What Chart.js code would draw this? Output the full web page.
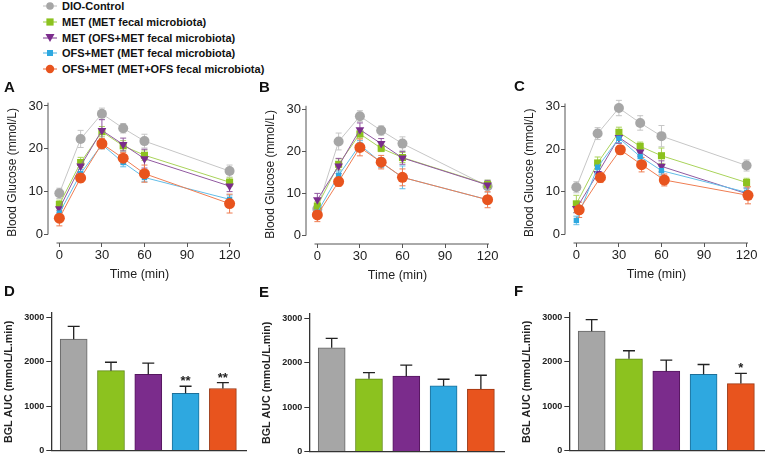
<!DOCTYPE html>
<html>
<head>
<meta charset="utf-8">
<script src="https://cdn.jsdelivr.net/npm/chart.js@4.4.0/dist/chart.umd.min.js"></script>
<style>
  body { margin: 0; background: #fff; width: 767px; height: 460px; position: relative; overflow: hidden; font-family: "Liberation Sans", Arial, sans-serif; }
  .pan { position: absolute; }
  .letter { position: absolute; font-weight: bold; font-size: 15px; line-height: 15px; color: #111; }
  #legend { position: absolute; left: 43px; top: -1px; font-weight: bold; font-size: 11px; color: #111; }
  #legend div { height: 15.8px; line-height: 15.8px; white-space: nowrap; }
  #legend svg { vertical-align: middle; margin-right: 5px; position: relative; top: -1px; }
</style>
</head>
<body>

<div id="legend"></div>

<canvas id="chartA" class="pan" width="247" height="193" style="left:0px;top:90px"></canvas>
<canvas id="chartB" class="pan" width="247" height="194" style="left:258px;top:90px"></canvas>
<canvas id="chartC" class="pan" width="247" height="193" style="left:517px;top:90px"></canvas>
<canvas id="chartD" class="pan" width="251" height="158" style="left:0px;top:300px"></canvas>
<canvas id="chartE" class="pan" width="251" height="159" style="left:258px;top:300px"></canvas>
<canvas id="chartF" class="pan" width="251" height="158" style="left:518px;top:300px"></canvas>

<div class="letter" style="left:4px;top:79px">A</div>
<div class="letter" style="left:259px;top:79px">B</div>
<div class="letter" style="left:514px;top:78px">C</div>
<div class="letter" style="left:4px;top:283px">D</div>
<div class="letter" style="left:259px;top:284px">E</div>
<div class="letter" style="left:514px;top:283px">F</div>

<script>
// groups and styles
const groups = ['DIO-Control', 'MET (MET fecal microbiota)', 'MET (OFS+MET fecal microbiota)', 'OFS+MET (MET fecal microbiota)', 'OFS+MET (MET+OFS fecal microbiota)'];
const colors = ['#a6a6a6', '#8cc21f', '#7b2c8c', '#2ea8e0', '#e8541e'];
const lineColors = ['#c6c6c6', '#a9d35a', '#9159a0', '#62bde8', '#ef7d52'];
const barBorders = ['#666666', '#5f8a14', '#55175f', '#1d6f98', '#9c3510'];

const times = [0, 15, 30, 45, 60, 120];
const timesCOrange = [2, 17, 31, 46, 62, 121];
const timeTicks = [0, 30, 60, 90, 120];
const glucoseTicks = [0, 10, 20, 30];
const aucTicks = [0, 1000, 2000, 3000];

// A: glucose means / SEM (rows follow groups)
const glucA = [
  [9.6, 22.3, 28.2, 24.8, 21.8, 14.8],
  [7.0, 16.8, 24.0, 20.7, 18.5, 12.2],
  [6.0, 16.0, 24.3, 21.0, 17.7, 11.3],
  [5.0, 14.2, 21.0, 16.8, 13.3, 8.2],
  [3.8, 13.2, 21.2, 17.8, 14.2, 7.2]
];
const semA = [
  [1.2, 2.0, 1.3, 1.1, 1.6, 1.4],
  [1.0, 1.2, 1.2, 1.2, 1.2, 1.0],
  [1.0, 1.5, 2.5, 1.5, 2.2, 1.3],
  [1.0, 1.0, 1.0, 1.0, 1.0, 1.0],
  [1.8, 1.0, 1.2, 1.3, 2.0, 2.2]
];

// B
const glucB = [
  [6.3, 22.3, 28.3, 24.9, 21.8, 11.7],
  [7.0, 16.9, 24.1, 20.7, 18.5, 12.1],
  [8.5, 16.5, 25.1, 21.8, 18.4, 12.0],
  [5.5, 14.3, 21.5, 17.3, 13.8, 8.5],
  [4.9, 12.8, 20.9, 17.4, 13.8, 8.5]
];
const semB = [
  [0.8, 2.0, 1.3, 1.1, 1.6, 1.5],
  [1.0, 1.3, 1.0, 0.8, 1.2, 1.0],
  [1.5, 1.8, 1.6, 1.2, 1.5, 1.0],
  [1.0, 1.0, 1.0, 1.2, 2.7, 1.0],
  [1.6, 1.1, 2.0, 1.6, 2.0, 1.9]
];

// C
const glucC = [
  [11.1, 23.7, 29.7, 26.2, 23.1, 16.2],
  [7.2, 16.8, 24.0, 20.7, 18.5, 12.2],
  [6.1, 14.3, 22.8, 19.4, 16.0, 9.6],
  [3.3, 15.8, 22.6, 18.3, 15.0, 9.9],
  [5.8, 13.4, 19.9, 16.4, 12.8, 9.2]
];
const semC = [
  [1.3, 1.4, 1.8, 1.7, 2.5, 1.3],
  [2.0, 1.4, 1.2, 1.0, 1.8, 1.0],
  [1.0, 1.2, 1.4, 1.0, 1.3, 1.3],
  [1.0, 1.0, 1.0, 1.0, 1.0, 1.0],
  [1.8, 1.2, 1.0, 1.7, 1.4, 2.0]
];

// D-F: AUC means / SEM / significance
const aucD = [2510, 1800, 1720, 1290, 1400];
const aucSemD = [290, 190, 250, 160, 130];
const starsD = ['', '', '', '**', '**'];
const aucE = [2340, 1640, 1700, 1480, 1410];
const aucSemE = [210, 140, 250, 150, 310];
const starsE = ['', '', '', '', ''];
const aucF = [2690, 2070, 1790, 1720, 1510];
const aucSemF = [260, 180, 250, 220, 230];
const starsF = ['', '', '', '', '*'];

const shapes = ['circle', 'rect', 'triangle', 'rect', 'circle'];
const sizes = [5, 5, 5, 3.8, 5.5];
const rotations = [0, 0, 180, 0, 0];

Chart.defaults.font.family = '"Liberation Sans", Arial, sans-serif';
Chart.defaults.color = '#222';

// error bars (both sides for lines, upper only for bars) + significance stars
const errorBars = {
  id: 'errorBars',
  beforeDatasetsDraw(chart) { if (chart.config.type === 'line') drawErrors(chart, true, 3); },
  afterDatasetsDraw(chart) { if (chart.config.type === 'bar') drawErrors(chart, false, 6); }
};

function drawErrors(chart, both, cap) {
  const ctx = chart.ctx;
  const ys = chart.scales.y;
  chart.data.datasets.forEach((ds, i) => {
    const meta = chart.getDatasetMeta(i);
    meta.data.forEach((el, j) => {
      const v = ds.data[j].y, e = ds.errors[j];
      const hi = ys.getPixelForValue(v + e);
      const lo = both ? ys.getPixelForValue(v - e) : el.y;
      ctx.save();
      ctx.strokeStyle = both ? ds.borderColor : '#222';
      ctx.lineWidth = both ? 1 : 1.3;
      ctx.beginPath();
      ctx.moveTo(el.x, hi); ctx.lineTo(el.x, lo);
      ctx.moveTo(el.x - cap, hi); ctx.lineTo(el.x + cap, hi);
      if (both) { ctx.moveTo(el.x - cap, lo); ctx.lineTo(el.x + cap, lo); }
      ctx.stroke();
      if (ds.stars && ds.stars[j]) {
        ctx.fillStyle = '#222';
        ctx.font = 'bold 13px "Liberation Sans", Arial, sans-serif';
        ctx.textAlign = 'center';
        ctx.textBaseline = 'alphabetic';
        ctx.fillText(ds.stars[j], el.x, hi - 1);
      }
      ctx.restore();
    });
  });
}

// offset axis lines like the original (Prism style)
const offsetAxes = {
  id: 'offsetAxes',
  afterDraw(chart) {
    if (chart.config.type !== 'line') return;
    const ctx = chart.ctx, xs = chart.scales.x, ys = chart.scales.y, a = chart.chartArea;
    ctx.save();
    ctx.strokeStyle = '#555';
    ctx.lineWidth = 1;
    ctx.beginPath();
    ctx.moveTo(a.left, a.top + 1); ctx.lineTo(a.left, ys.getPixelForValue(0));
    ctx.moveTo(xs.getPixelForValue(-2), a.bottom); ctx.lineTo(a.right, a.bottom);
    ctx.stroke();
    ctx.restore();
  }
};

function lineChart(id, vals, sems, padTop, xsFor) {
  return new Chart(document.getElementById(id), {
    type: 'line',
    data: {
      datasets: groups.map((g, k) => ({
        label: g,
        data: vals[k].map((v, j) => ({ x: xsFor(k)[j], y: v })),
        errors: sems[k],
        borderColor: lineColors[k],
        borderWidth: 1,
        backgroundColor: colors[k],
        pointBorderColor: colors[k],
        pointBackgroundColor: colors[k],
        pointStyle: shapes[k],
        pointRadius: sizes[k],
        pointRotation: rotations[k],
        pointBorderWidth: 0,
        clip: false,
        order: groups.length - k
      }))
    },
    options: {
      responsive: false, animation: false, events: [],
      layout: { padding: { top: padTop, right: 16, bottom: 0, left: 0 } },
      plugins: { legend: { display: false }, tooltip: { enabled: false } },
      scales: {
        x: {
          type: 'linear', min: -8, max: 121,
          afterBuildTicks: s => { s.ticks = timeTicks.map(v => ({ value: v })); },
          afterFit: s => { s.height = 40; },
          border: { display: false },
          grid: { drawOnChartArea: false, tickLength: 4, color: '#555' },
          ticks: { font: { size: 13 }, color: '#222', padding: 1, maxRotation: 0, autoSkip: false },
          title: { display: true, text: 'Time (min)', font: { size: 12.5 }, color: '#222', padding: { top: 0, bottom: 1 } }
        },
        y: {
          min: -2, max: 31,
          afterBuildTicks: s => { s.ticks = glucoseTicks.map(v => ({ value: v })); },
          afterFit: s => { s.width = 48; },
          border: { display: false },
          grid: { drawOnChartArea: false, tickLength: 4, color: '#555' },
          ticks: { font: { size: 13 }, color: '#222', padding: 1 },
          title: { display: true, text: 'Blood Glucose (mmol/L)', font: { size: 12 }, color: '#222', padding: { top: 5, bottom: 0 } }
        }
      }
    },
    plugins: [errorBars, offsetAxes]
  });
}

function barChart(id, vals, sems, stars, padTop) {
  return new Chart(document.getElementById(id), {
    type: 'bar',
    data: {
      labels: groups,
      datasets: [{
        data: vals.map((v, i) => ({ x: i, y: v })),
        errors: sems,
        stars: stars,
        backgroundColor: colors,
        borderColor: barBorders,
        borderWidth: 1,
        borderSkipped: 'bottom',
        barThickness: 27
      }]
    },
    options: {
      responsive: false, animation: false, events: [],
      layout: { padding: { top: padTop, right: 5, bottom: 3, left: 0 } },
      plugins: { legend: { display: false }, tooltip: { enabled: false } },
      scales: {
        x: {
          type: 'linear', min: -0.6, max: 4.62, offset: false,
          afterFit: s => { s.height = 0; },
          border: { display: true, color: '#333', width: 1.3 },
          grid: { display: false, offset: false },
          ticks: { display: false }
        },
        y: {
          min: 0, max: 3100,
          afterBuildTicks: s => { s.ticks = aucTicks.map(v => ({ value: v })); },
          afterFit: s => { s.width = 51.3; },
          border: { display: true, color: '#333', width: 1.3 },
          grid: { drawOnChartArea: false, tickLength: 5, color: '#333' },
          ticks: { font: { size: 9, weight: 'bold' }, color: '#222', padding: 2, callback: v => String(v) },
          title: { display: true, text: 'BGL AUC (mmoL/L.min)', font: { size: 10.7, weight: 'bold' }, color: '#222', padding: { top: 3, bottom: 0 } }
        }
      }
    },
    plugins: [errorBars]
  });
}

lineChart('chartA', glucA, semA, 11.7, () => times);
lineChart('chartB', glucB, semB, 14.8, () => times);
lineChart('chartC', glucC, semC, 12.5, k => (k === 4 ? timesCOrange : times));
barChart('chartD', aucD, aucSemD, starsD, 13);
barChart('chartE', aucE, aucSemE, starsE, 14);
barChart('chartF', aucF, aucSemF, starsF, 13);

// legend (HTML text with small marker glyphs)
function markerSvg(k) {
  const c = colors[k], lc = lineColors[k];
  let m;
  if (shapes[k] === 'circle') m = `<circle cx="7" cy="6" r="${k === 4 ? 4.2 : 3.8}" fill="${c}"/>`;
  else if (shapes[k] === 'rect') { const h = k === 1 ? 3.6 : 3; m = `<rect x="${7 - h}" y="${6 - h}" width="${2 * h}" height="${2 * h}" fill="${c}"/>`; }
  else m = `<polygon points="2.5,2 11.5,2 7,10" fill="${c}"/>`;
  return `<svg width="14" height="12"><line x1="0" y1="6" x2="14" y2="6" stroke="${lc}" stroke-width="1.2"/>${m}</svg>`;
}
document.getElementById('legend').innerHTML = groups.map((g, k) => `<div>${markerSvg(k)}${g}</div>`).join('');
</script>
</body>
</html>
